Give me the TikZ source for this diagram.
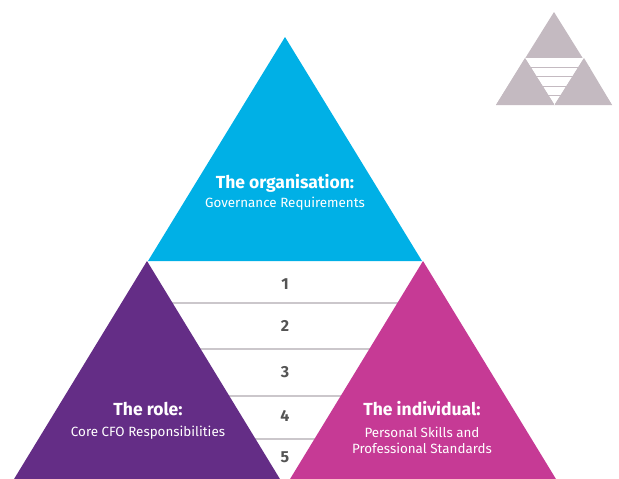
\documentclass[tikz,border=0pt]{standalone}
\usepackage{fontspec}
\setmainfont{Fira Sans}
\usepackage{tikz}
\usepackage{xcolor}
\usetikzlibrary{calc,positioning}

\definecolor{orgblue}{HTML}{00B0E6}
\definecolor{rolepurple}{HTML}{642D86}
\definecolor{indmagenta}{HTML}{C63A95}
\definecolor{icongrey}{HTML}{C4BAC1}
\definecolor{bandgrey}{HTML}{CBC7CB}
\definecolor{numgrey}{HTML}{545454}

\begin{document}
\begin{tikzpicture}[x=1pt, y=-1pt,
    head/.style={text=white, font=\bfseries\fontsize{17.5}{19}\selectfont},
    sub/.style={text=white, font=\fontsize{13.4}{16}\selectfont, align=center},
    num/.style={text=numgrey, font=\bfseries\fontsize{16}{18}\selectfont}]
  \useasboundingbox (0,0) rectangle (619,479);
  % band lines
  \foreach \y in {303,349,396,439}
    \draw [bandgrey, line width=1.4pt] (150,\y) -- (420,\y);
  % triangles
  \fill [orgblue] (285,37) -- (422,261) -- (148,261) -- cycle;
  \fill [rolepurple] (147,261) -- (283,484) -- (11,484) -- cycle;
  \fill [indmagenta] (423,261) -- (559,484) -- (287,484) -- cycle;
  % icon
  \fill [icongrey] (554,12) -- (612,105) -- (496,105) -- cycle;
  \fill [white] (525,58) -- (584,58) -- (554.5,105) -- cycle;
  \foreach \y in {67,76.5,86,95}
    \draw [icongrey, line width=0.9pt] (520,\y) -- (590,\y);
  \fill [icongrey] (525,58) -- (554,104) -- (496,105) -- cycle;
  \fill [icongrey] (584,58) -- (612,105) -- (555,104) -- cycle;
  % labels
  \node [head] (org) at (285,183) {The organisation:};
  \node [sub] (orgsub) at (285,204) {Governance Requirements};
  \node [head] (role) at (148,409) {The role:};
  \node [sub] (rolesub) at (148,433) {Core CFO Responsibilities};
  \node [head] (ind) at (422,409) {The individual:};
  \node [sub] (indsub) at (422,440) {Personal Skills and\\Professional Standards};
  \node [num] (n1) at (285,284) {1};
  \node [num] (n2) at (285,326) {2};
  \node [num] (n3) at (285,372) {3};
  \node [num] (n4) at (285,416) {4};
  \node [num] (n5) at (285,457) {5};
\end{tikzpicture}
\end{document}
